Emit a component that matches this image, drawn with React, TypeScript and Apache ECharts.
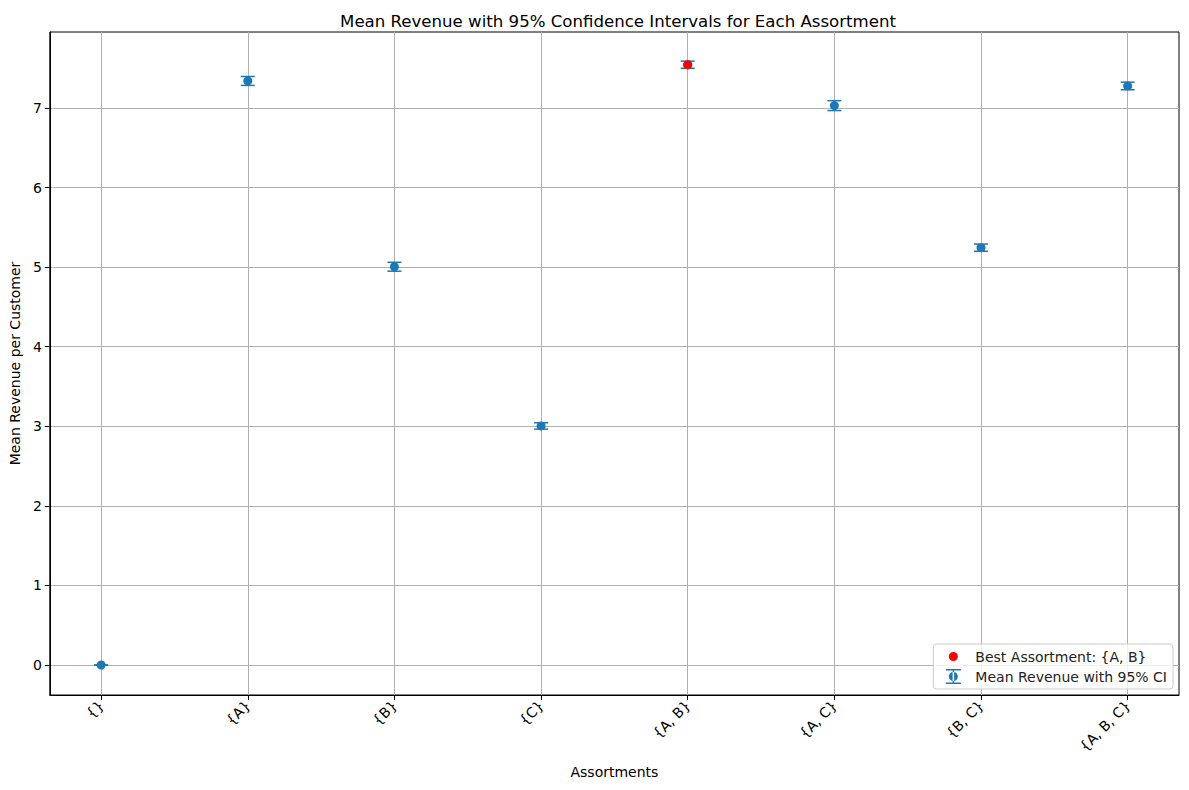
import React, { useEffect, useRef } from "react";
import * as echarts from "echarts";

const categories = ["{}", "{A}", "{B}", "{C}", "{A, B}", "{A, C}", "{B, C}", "{A, B, C}"];
const means = [0, 7.34, 5.005, 3.004, 7.544, 7.03, 5.245, 7.277];
const ciHalf = [0, 0.056, 0.056, 0.04, 0.045, 0.062, 0.045, 0.048];
const bestIndex = 4;
const bestLabel = "Best Assortment: {A, B}";
const meanLabel = "Mean Revenue with 95% CI";
const titleText = "Mean Revenue with 95% Confidence Intervals for Each Assortment";
const yTicks = [0, 1, 2, 3, 4, 5, 6, 7];

const BLUE = "#1f77b4";
const FONT = "DejaVu Sans";

export default function App() {
  const ref = useRef<HTMLDivElement>(null);
  useEffect(() => {
    if (!ref.current) return;
    const chart = echarts.init(ref.current, null, { renderer: "svg" });
    const errData = categories.map((_, i) => [i, means[i], means[i] - ciHalf[i], means[i] + ciHalf[i]]);
    const ptData = categories.map((_, i) => [i, means[i]]);
    const xTicks = categories.map((_, i) => i);
    // icons are 32x15 boxes (M0,0 M32,15 fix the box), glyph centred at x=15
    const dotIcon = "path://M0,0M32,15M10.5,7.5a4.5,4.5 0 1,0 9,0a4.5,4.5 0 1,0 -9,0z";
    const errIcon =
      "path://M0,0M32,15M7.5,0h15v1.5h-15z M14.25,0h1.5v15h-1.5z M7.5,13.5h15v1.5h-15z M10.5,7.5a4.5,4.5 0 1,0 9,0a4.5,4.5 0 1,0 -9,0z";
    chart.setOption({
      animation: false,
      backgroundColor: "#ffffff",
      title: {
        text: titleText,
        left: 613,
        textAlign: "center",
        top: 8,
        textStyle: { fontFamily: FONT, fontSize: 16.6, fontWeight: "normal", color: "#000" },
      },
      grid: {
        left: 48,
        right: 10,
        top: 32,
        bottom: 95,
        show: true,
        borderColor: "#000",
        borderWidth: 1,
        backgroundColor: "transparent",
      },
      legend: {
        orient: "vertical",
        right: 16,
        bottom: 101,
        backgroundColor: "rgba(255,255,255,0.8)",
        borderColor: "#cccccc",
        borderWidth: 1,
        borderRadius: 3,
        padding: [5, 6, 5, 5],
        itemGap: 5,
        itemWidth: 32,
        itemHeight: 15,
        textStyle: { fontFamily: FONT, fontSize: 14, color: "#222" },
        selectedMode: false,
        data: [
          { name: bestLabel, icon: dotIcon, itemStyle: { color: "red" } },
          { name: meanLabel, icon: errIcon, itemStyle: { color: BLUE } },
        ],
      },
      xAxis: {
        type: "value",
        min: -0.35,
        max: 7.35,
        interval: 1,
        name: "Assortments",
        nameLocation: "middle",
        nameGap: 70,
        nameTextStyle: { fontFamily: FONT, fontSize: 14, color: "#000" },
        axisLine: { show: true, onZero: false, lineStyle: { color: "#000", width: 1 } },
        axisTick: { show: true, length: 5, lineStyle: { color: "#000" }, customValues: xTicks },
        axisLabel: {
          rotate: 45,
          fontFamily: FONT,
          fontSize: 14,
          color: "#000",
          margin: 8,
          customValues: xTicks,
          formatter: (v: number) => {
            const r = Math.round(v);
            return Math.abs(v - r) < 1e-6 && r >= 0 && r < categories.length ? categories[r] : "";
          },
        },
        splitLine: { show: true, lineStyle: { color: "#b0b0b0", width: 1 } },
      },
      yAxis: {
        type: "value",
        min: -0.377,
        max: 7.955,
        name: "Mean Revenue per Customer",
        nameLocation: "middle",
        nameGap: 26,
        nameTextStyle: { fontFamily: FONT, fontSize: 14, color: "#000" },
        axisLine: { show: true, onZero: false, lineStyle: { color: "#000", width: 1 } },
        axisTick: { show: true, length: 5, lineStyle: { color: "#000" }, customValues: yTicks },
        axisLabel: {
          fontFamily: FONT,
          fontSize: 14,
          color: "#000",
          margin: 8,
          customValues: yTicks,
          formatter: (v: number) => String(Math.round(v)),
        },
        splitLine: { show: true, lineStyle: { color: "#b0b0b0", width: 1 } },
      },
      series: [
        {
          name: meanLabel,
          type: "custom",
          itemStyle: { color: BLUE },
          data: errData,
          z: 3,
          renderItem: (params: any, api: any) => {
            const x = api.value(0);
            const lo = api.coord([x, api.value(2)]);
            const hi = api.coord([x, api.value(3)]);
            const cap = 7;
            const st = { stroke: BLUE, lineWidth: 1.5 };
            return {
              type: "group",
              children: [
                { type: "line", shape: { x1: lo[0], y1: lo[1], x2: hi[0], y2: hi[1] }, style: st },
                { type: "line", shape: { x1: lo[0] - cap, y1: lo[1], x2: lo[0] + cap, y2: lo[1] }, style: st },
                { type: "line", shape: { x1: hi[0] - cap, y1: hi[1], x2: hi[0] + cap, y2: hi[1] }, style: st },
              ],
            };
          },
        },
        {
          name: meanLabel,
          type: "scatter",
          symbol: "circle",
          symbolSize: 9,
          itemStyle: { color: BLUE, opacity: 1 },
          data: ptData,
          z: 4,
        },
        {
          name: bestLabel,
          type: "scatter",
          symbol: "circle",
          symbolSize: 9,
          itemStyle: { color: "red", opacity: 1 },
          data: [[bestIndex, means[bestIndex]]],
          z: 5,
        },
      ],
    });
    return () => chart.dispose();
  }, []);
  return (
    <div
      ref={ref}
      style={{ position: "fixed", left: 0, top: 0, width: 1189, height: 790, background: "#fff" }}
    />
  );
}
